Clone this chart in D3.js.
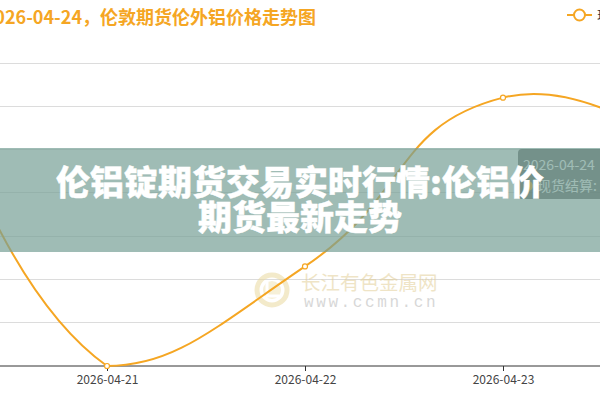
<!DOCTYPE html>
<html>
<head>
<meta charset="utf-8">
<script src="https://cdn.jsdelivr.net/npm/d3@7/dist/d3.min.js"></script>
<style>
  html, body { margin: 0; padding: 0; background: #fff; }
  svg { display: block; }
  text { font-family: "Noto Sans CJK SC", "Noto Sans", sans-serif; }
</style>
</head>
<body>
<svg id="chart" width="600" height="400"></svg>
<script>
// ---- data ----
const dates = ["2026-04-20", "2026-04-21", "2026-04-22", "2026-04-23", "2026-04-24"];
const prices = [3098, 3010, 3033, 3072, 3056.4];
const yTicks = [3010, 3020, 3030, 3040, 3050, 3060, 3070, 3080];
const seriesName = "现货结算";
const titleText = "2026-04-24，伦敦期货伦外铝价格走势图";
const bannerLines = ["伦铝锭期货交易实时行情:伦铝价", "期货最新走势"];
const tooltipDate = "2026-04-24";
const watermarkCn = "长江有色金属网";
const watermarkUrl = "www.ccmn.cn";

const orange = "#f5a623";
const svg = d3.select("#chart");

// scales (the plotted chart is wider than the window; it is cropped)
const x = d3.scalePoint().domain(dates).range([-91, 701]);
const y = d3.scaleLinear().domain([3010, 3080]).range([366, 63]);

// ECharts-like smooth curve (smooth = 0.5)
function SmoothCurve(context) { this._context = context; }
SmoothCurve.prototype = {
  areaStart() { this._line = 0; },
  areaEnd() { this._line = NaN; },
  lineStart() { this._pts = []; },
  point(px, py) { this._pts.push([+px, +py]); },
  lineEnd() {
    const p = this._pts, c = this._context, s = 0.5, n = p.length;
    if (!n) return;
    const minX = d3.min(p, d => d[0]), maxX = d3.max(p, d => d[0]);
    const minY = d3.min(p, d => d[1]), maxY = d3.max(p, d => d[1]);
    const clamp = q => [Math.max(minX, Math.min(maxX, q[0])), Math.max(minY, Math.min(maxY, q[1]))];
    c.moveTo(p[0][0], p[0][1]);
    let cp0 = p[0].slice();
    for (let i = 1; i < n; i++) {
      const [px, py] = p[i];
      let cp1, next = null;
      if (i === n - 1) { cp1 = [px, py]; }
      else {
        const pr = p[i - 1], nx = p[i + 1];
        const vx = nx[0] - pr[0], vy = nx[1] - pr[1];
        const l0 = Math.hypot(px - pr[0], py - pr[1]);
        const l1 = Math.hypot(nx[0] - px, nx[1] - py);
        const r = l1 / (l0 + l1);
        cp1 = [px - vx * s * (1 - r), py - vy * s * (1 - r)];
        next = [px + vx * s * r, py + vy * s * r];
      }
      cp0 = clamp(cp0); cp1 = clamp(cp1);
      c.bezierCurveTo(cp0[0], cp0[1], cp1[0], cp1[1], px, py);
      cp0 = next;
    }
  }
};
const smoothCurve = ctx => new SmoothCurve(ctx);

// grid lines
svg.append("g").selectAll("line").data(yTicks.slice(1)).join("line")
  .attr("x1", x.range()[0]).attr("x2", x.range()[1])
  .attr("y1", d => y(d)).attr("y2", d => y(d))
  .attr("stroke", "#dcdcdc").attr("stroke-width", 1)
  .attr("shape-rendering", "crispEdges");

// x axis (labels only for the categories that fall inside the window)
const xAxis = svg.append("g").attr("transform", `translate(0,${y(3010)})`)
  .call(d3.axisBottom(x).tickSize(5).tickPadding(4)
    .tickFormat(d => (x(d) >= 0 && x(d) <= 600) ? d : ""));
xAxis.select(".domain").attr("stroke", "#333").attr("d", `M${x.range()[0]},0H${x.range()[1]}`);
xAxis.selectAll(".tick line").attr("stroke", "#333");
xAxis.selectAll(".tick text").attr("fill", "#444").attr("font-size", 12)
  .style("font-family", '"Noto Sans CJK SC", "Noto Sans", sans-serif');

// watermark
const wm = svg.append("g").attr("opacity", 0.55);
wm.append("circle").attr("cx", 272).attr("cy", 290).attr("r", 15)
  .attr("fill", "none").attr("stroke", "#ead9a0").attr("stroke-width", 5);
wm.append("circle").attr("cx", 272).attr("cy", 290).attr("r", 9).attr("fill", "#f0e4b8");
wm.append("path").attr("d", "M267,282V296H279").attr("fill", "none")
  .attr("stroke", "#fff").attr("stroke-width", 3);
wm.append("text").attr("x", 301).attr("y", 290).attr("font-size", 19.5)
  .attr("fill", "#e3cf98").text(watermarkCn);
wm.append("text").attr("x", 304).attr("y", 307).attr("font-size", 16)
  .attr("letter-spacing", 2.6).attr("fill", "#b8b8b8")
  .style("font-family", '"Liberation Mono", "DejaVu Sans Mono", monospace').text(watermarkUrl);

// line
const data = dates.map((d, i) => ({ d, v: prices[i] }));
const line = d3.line().x(p => x(p.d)).y(p => y(p.v)).curve(smoothCurve);
svg.append("path").datum(data).attr("d", line)
  .attr("fill", "none").attr("stroke", orange).attr("stroke-width", 2);
svg.append("g").selectAll("circle").data(data).join("circle")
  .attr("cx", p => x(p.d)).attr("cy", p => y(p.v)).attr("r", 2.5)
  .attr("fill", "#fff").attr("stroke", orange).attr("stroke-width", 1.2);

// title
svg.append("text").attr("x", 316).attr("y", 24).attr("text-anchor", "end")
  .attr("font-size", 18).attr("font-weight", "bold").attr("fill", orange).text(titleText);

// legend
const lg = svg.append("g");
lg.append("line").attr("x1", 567).attr("x2", 592).attr("y1", 15).attr("y2", 15)
  .attr("stroke", orange).attr("stroke-width", 2);
lg.append("circle").attr("cx", 579.5).attr("cy", 15).attr("r", 5.5)
  .attr("fill", "#fff").attr("stroke", orange).attr("stroke-width", 2);
lg.append("text").attr("x", 597).attr("y", 20).attr("font-size", 12).attr("fill", "#333").text(seriesName);

// tooltip
const tt = svg.append("g");
tt.append("rect").attr("x", 518).attr("y", 149).attr("width", 110).attr("height", 50).attr("rx", 4)
  .attr("fill", "rgba(50,50,50,0.7)");
tt.append("text").attr("x", 523).attr("y", 170).attr("font-size", 14).attr("fill", "#fff").text(tooltipDate);
tt.append("circle").attr("cx", 528).attr("cy", 186).attr("r", 5).attr("fill", orange);
tt.append("text").attr("x", 537).attr("y", 191).attr("font-size", 14).attr("fill", "#fff")
  .text(`${seriesName}: ${prices[prices.length - 1]}`);

// banner overlay
svg.append("rect").attr("x", 0).attr("y", 148).attr("width", 600).attr("height", 104)
  .attr("fill", "rgba(118,160,150,0.7)");
svg.append("g").selectAll("text").data(bannerLines).join("text")
  .attr("x", 300).attr("y", (d, i) => 195 + i * 35)
  .attr("text-anchor", "middle").attr("font-size", 34).attr("font-weight", 900)
  .attr("fill", "#fff").attr("stroke", "#fff").attr("stroke-width", 0.4)
  .attr("stroke-linejoin", "round").text(d => d);
</script>
</body>
</html>
